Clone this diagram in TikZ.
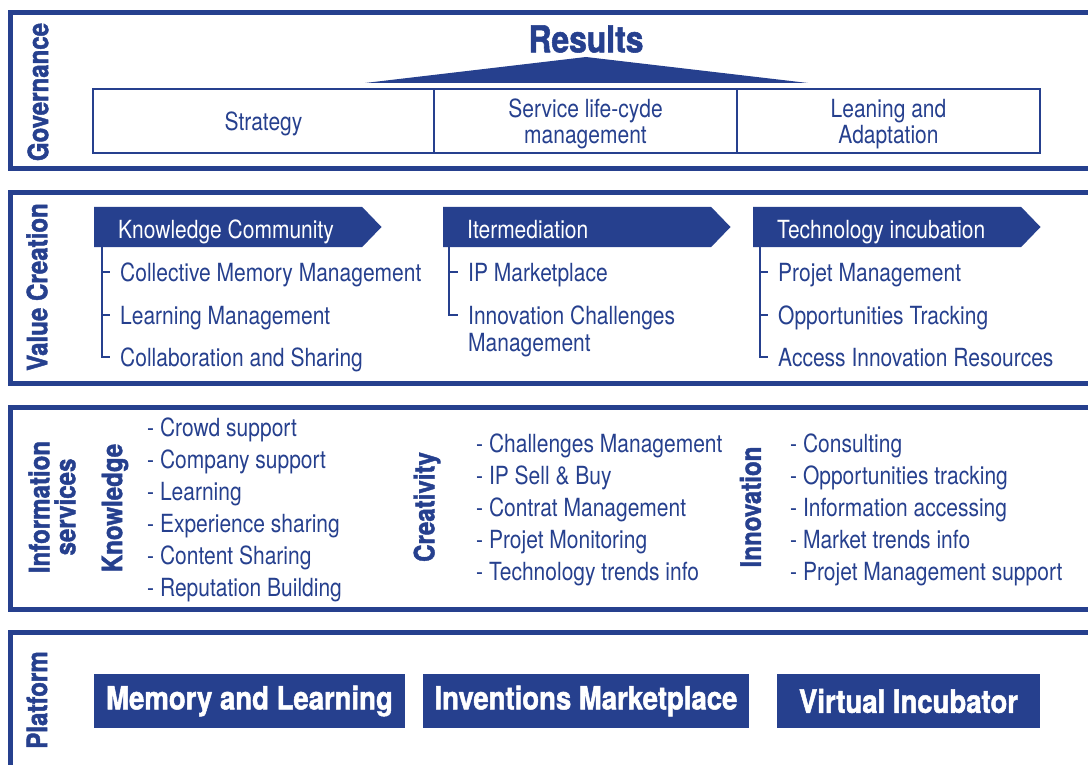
\documentclass[tikz,border=0pt]{standalone}
\usepackage{fontspec}
\setmainfont{TeX Gyre Heros}[FakeStretch=0.84,BoldFeatures={FakeStretch=0.86,FakeBold=1.5}]
\usetikzlibrary{shapes.symbols}
\definecolor{ipblue}{RGB}{38,64,142}
\tikzstyle{frame}=[draw=ipblue, line width=5pt]
\tikzstyle{layer}=[text=ipblue, rotate=90, align=center, inner sep=0pt, font=\fontsize{28}{28}\selectfont\bfseries]
\tikzstyle{govbox}=[draw=ipblue, line width=2.5pt, minimum height=64pt, text=ipblue, align=center, text depth=0pt, font=\fontsize{25}{26}\selectfont]
\tikzstyle{head}=[signal, signal to=east, signal pointer angle=92, fill=ipblue, text=white, minimum height=40pt, inner xsep=24pt, inner ysep=0pt, anchor=west, text width=220pt, text height=23pt, text depth=0pt, align=flush left, font=\fontsize{25}{26}\selectfont]
\tikzstyle{item}=[text=ipblue, inner sep=0pt, anchor=west, text height=18pt, text depth=0pt, font=\fontsize{25}{27}\selectfont]
\tikzstyle{itemlong}=[text=ipblue, inner sep=0pt, anchor=north west, align=left, font=\fontsize{25}{27}\selectfont]
\tikzstyle{tree}=[draw=ipblue, line width=2.4pt]
\tikzstyle{service}=[text=ipblue, inner sep=0pt, anchor=north west, align=left, font=\fontsize{25}{32}\selectfont]
\tikzstyle{platbox}=[fill=ipblue, text=white, minimum height=54pt, font=\fontsize{32}{32}\selectfont\bfseries]

\begin{document}
\begin{tikzpicture}[x=1pt,y=-1pt]
  \useasboundingbox (0,0) rectangle (1088,765);
  \clip (0,0) rectangle (1088,765);

  %% Layers
  \draw[frame] (10.5,12.5) rectangle (1110,169);
  \draw[frame] (10.5,192.5) rectangle (1110,383);
  \draw[frame] (10.5,407.5) rectangle (1110,609.5);
  \draw[frame] (10.5,632.5) rectangle (1110,790);

  \draw (38,92) node[layer] (Lgov) {Governance};
  \draw (37,287) node[layer] (Lval) {Value Creation};
  \draw (52,507) node[layer] (Linf) {Information\\[-2pt]services};
  \draw (37,700) node[layer] (Lplat) {Platform};

  %% Governance
  \draw (586,39) node[text=ipblue, font=\fontsize{37}{37}\selectfont\bfseries] (Res) {Results};
  \fill[ipblue] (365,83) -- (586,57) -- (808,83) -- cycle;
  \draw (263.5,121) node[govbox, minimum width=341pt] (G1) {Strategy};
  \draw (585.5,121) node[govbox, minimum width=303pt] (G2) {Service life-cyde\\management};
  \draw (888.5,121) node[govbox, minimum width=303pt] (G3) {Leaning and\\Adaptation};

  %% Value creation
  \draw (94,227) node[head] (H1) {Knowledge Community};
  \draw (443,227) node[head] (H2) {Itermediation};
  \draw (753,227) node[head] (H3) {Technology incubation};
  \coordinate (t1) at (102,247);
  \coordinate (t2) at (449,247);
  \coordinate (t3) at (760,247);

  \draw (120,272) node[item] (i11) {Collective Memory Management};
  \draw (120,315) node[item] (i12) {Learning Management};
  \draw (120,357) node[item] (i13) {Collaboration and Sharing};
  \draw (468,272) node[item] (i21) {IP Marketplace};
  \draw (468,306) node[itemlong] (i22) {Innovation Challenges\\Management};
  \draw (778,272) node[item] (i31) {Projet Management};
  \draw (778,315) node[item] (i32) {Opportunities Tracking};
  \draw (778,357) node[item] (i33) {Access Innovation Resources};

  \draw[tree] (t1) |- ([xshift=-10pt]i13.west);
  \draw[tree] (t1 |- i11.west) -- ([xshift=-10pt]i11.west);
  \draw[tree] (t1 |- i12.west) -- ([xshift=-10pt]i12.west);
  \draw[tree] (t2) |- ([xshift=-10pt,yshift=-9pt]i22.north west);
  \draw[tree] (t2 |- i21.west) -- ([xshift=-10pt]i21.west);
  \draw[tree] (t3) |- ([xshift=-10pt]i33.west);
  \draw[tree] (t3 |- i31.west) -- ([xshift=-10pt]i31.west);
  \draw[tree] (t3 |- i32.west) -- ([xshift=-10pt]i32.west);

  %% Information services
  \draw (115,508) node[layer] (Sknow) {Knowledge};
  \draw (427,507) node[layer] (Screa) {Creativity};
  \draw (750.5,507) node[layer] (Sinno) {Innovation};
  \draw (147,418) node[service] (Lknow) {- Crowd support\\- Company support\\- Learning\\- Experience sharing\\- Content Sharing\\- Reputation Building};
  \draw (476,434) node[service] (Lcrea) {- Challenges Management\\- IP Sell \& Buy\\- Contrat Management\\- Projet Monitoring\\- Technology trends info};
  \draw (790,434) node[service] (Linno) {- Consulting\\- Opportunities tracking\\- Information accessing\\- Market trends info\\- Projet Management support};

  %% Platform
  \draw (249.5,701) node[platbox, minimum width=311pt] (P1) {Memory and Learning};
  \draw (586,701) node[platbox, minimum width=326pt] (P2) {Inventions Marketplace};
  \draw (908.5,701) node[platbox, minimum width=263pt] (P3) {Virtual Incubator};
\end{tikzpicture}
\end{document}
